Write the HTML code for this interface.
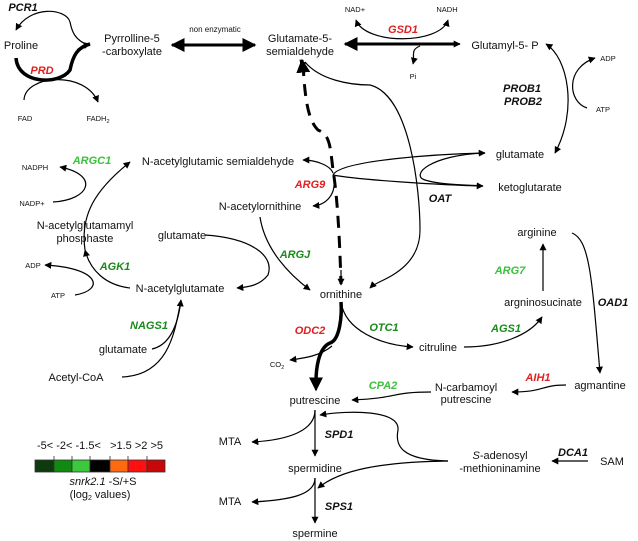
<!DOCTYPE html>
<html><head><meta charset="utf-8"><style>
body{margin:0;background:#fff}
svg{display:block;font-family:"Liberation Sans",Arial,sans-serif}
.t{font-size:11px;fill:#111}
.s{font-size:7.5px;fill:#111}
.e{font-size:11px;font-weight:bold;font-style:italic}
.l{fill:none;stroke:#000;stroke-width:1.2}
</style></head><body>
<svg width="638" height="541" viewBox="0 0 638 541">
<defs>
<marker id="a" viewBox="0 0 10 10" refX="9" refY="5" markerWidth="7" markerHeight="7" orient="auto-start-reverse" markerUnits="userSpaceOnUse"><path d="M0,0L10,5L0,10z"/></marker>
<marker id="b" viewBox="0 0 10 10" refX="9" refY="5" markerWidth="14" markerHeight="14" orient="auto-start-reverse" markerUnits="userSpaceOnUse"><path d="M0,0L10,5L0,10z"/></marker>
</defs>
<g text-anchor="middle">
<text class="e" x="23" y="11" fill="#111">PCR1</text>
<text class="t" x="21" y="49">Proline</text>
<text class="t" x="132" y="42">Pyrrolline-5</text>
<text class="t" x="132" y="55">-carboxylate</text>
<text class="s" x="215" y="32" style="font-size:8px">non enzymatic</text>
<text class="t" x="300" y="42">Glutamate-5-</text>
<text class="t" x="300" y="55">semialdehyde</text>
<text class="s" x="355" y="12">NAD+</text>
<text class="s" x="447" y="12">NADH</text>
<text class="e" x="403" y="33" fill="#e02020">GSD1</text>
<text class="s" x="413" y="79">Pi</text>
<text class="t" x="505" y="49">Glutamyl-5- P</text>
<text class="s" x="608" y="61">ADP</text>
<text class="s" x="603" y="112">ATP</text>
<text class="e" x="522" y="92" fill="#111">PROB1</text>
<text class="e" x="523" y="105" fill="#111">PROB2</text>
<text class="e" x="42" y="74" fill="#e02020">PRD</text>
<text class="s" x="25" y="121">FAD</text>
<text class="s" x="98" y="121">FADH<tspan font-size="5.5" dy="2">2</tspan></text>
<text class="e" x="92" y="164" fill="#3cc03c">ARGC1</text>
<text class="s" x="35" y="170">NADPH</text>
<text class="s" x="32" y="206">NADP+</text>
<text class="t" x="218" y="165">N-acetylglutamic semialdehyde</text>
<text class="e" x="310" y="188" fill="#e02020">ARG9</text>
<text class="t" x="260" y="210">N-acetylornithine</text>
<text class="t" x="520" y="158">glutamate</text>
<text class="t" x="530" y="191">ketoglutarate</text>
<text class="e" x="440" y="202" fill="#111">OAT</text>
<text class="t" x="85" y="229">N-acetylglutamamyl</text>
<text class="t" x="85" y="242">phosphaste</text>
<text class="t" x="182" y="239">glutamate</text>
<text class="e" x="295" y="258" fill="#1a8a1a">ARGJ</text>
<text class="t" x="537" y="236">arginine</text>
<text class="e" x="510" y="274" fill="#3cc03c">ARG7</text>
<text class="t" x="543" y="306">argninosucinate</text>
<text class="e" x="613" y="306" fill="#111">OAD1</text>
<text class="s" x="33" y="268">ADP</text>
<text class="e" x="115" y="270" fill="#1a8a1a">AGK1</text>
<text class="s" x="58" y="298">ATP</text>
<text class="t" x="180" y="292">N-acetylglutamate</text>
<text class="t" x="341" y="298">ornithine</text>
<text class="e" x="149" y="329" fill="#1a8a1a">NAGS1</text>
<text class="t" x="123" y="353">glutamate</text>
<text class="t" x="76" y="381">Acetyl-CoA</text>
<text class="e" x="310" y="334" fill="#e02020">ODC2</text>
<text class="e" x="384" y="331" fill="#1a8a1a">OTC1</text>
<text class="e" x="506" y="332" fill="#1a8a1a">AGS1</text>
<text class="t" x="438" y="351">citruline</text>
<text class="s" x="277" y="367">CO<tspan font-size="5.5" dy="2">2</tspan></text>
<text class="e" x="383" y="389" fill="#3cc03c">CPA2</text>
<text class="t" x="466" y="391">N-carbamoyl</text>
<text class="t" x="466" y="403">putrescine</text>
<text class="e" x="538" y="381" fill="#e02020">AIH1</text>
<text class="t" x="600" y="389">agmantine</text>
<text class="t" x="315" y="404">putrescine</text>
<text class="t" x="230" y="445">MTA</text>
<text class="e" x="339" y="438" fill="#111">SPD1</text>
<text class="t" x="315" y="472">spermidine</text>
<text class="t" x="500" y="459"><tspan font-style="italic">S</tspan>-adenosyl</text>
<text class="t" x="500" y="472">-methioninamine</text>
<text class="e" x="573" y="456" fill="#111">DCA1</text>
<text class="t" x="612" y="465">SAM</text>
<text class="t" x="230" y="505">MTA</text>
<text class="e" x="339" y="510" fill="#111">SPS1</text>
<text class="t" x="315" y="537">spermine</text>
<text class="t" x="100" y="449">-5&lt; -2&lt; -1.5&lt;&#160;&#160; &gt;1.5 &gt;2 &gt;5</text>
<text class="t" x="103" y="485"><tspan font-style="italic">snrk2.1</tspan> -S/+S</text>
<text class="t" x="100" y="498">(log<tspan font-size="7" dy="2">2</tspan><tspan dy="-2"> values)</tspan></text>
</g>
<g stroke="#333" stroke-width="0.8">
<rect x="35" y="460" width="19" height="12" fill="#0d3b0d"/>
<rect x="54" y="460" width="18" height="12" fill="#118a11"/>
<rect x="72" y="460" width="18" height="12" fill="#3cc83c"/>
<rect x="90" y="460" width="20" height="12" fill="#000"/>
<rect x="110" y="460" width="18" height="12" fill="#ff6a10"/>
<rect x="128" y="460" width="19" height="12" fill="#ff1010"/>
<rect x="147" y="460" width="18" height="12" fill="#c80808"/>
<path d="M54,456V460M72,456V460M90,456V460M110,456V460M128,456V460M147,456V460"/>
</g>
<g class="l">
<path d="M88,45 C75,40 72,32 70,22 C66,8 30,5 16,30" marker-end="url(#a)"/>
<path d="M16,58 C18,85 60,85 70,70 C73,55 78,47 90,44" stroke-width="3.5" marker-end="url(#a)"/>
<path d="M24,100 C25,75 85,70 98,102" marker-end="url(#a)"/>
<path d="M172,45 L255,45" stroke-width="3" marker-start="url(#b)" marker-end="url(#b)"/>
<path d="M345,44 L457,44" stroke-width="3" marker-start="url(#b)"/>
<path d="M345,44 L460,44" stroke-width="1.5" marker-end="url(#a)"/>
<path d="M356,20 C365,45 440,45 448,20" marker-start="url(#a)" marker-end="url(#a)"/>
<path d="M420,46 C410,50 415,55 413,64" marker-end="url(#a)"/>
<path d="M546,44 C568,58 578,110 555,153" marker-start="url(#a)" marker-end="url(#a)"/>
<path d="M587,108 C568,102 565,68 595,58" marker-end="url(#a)"/>
<path d="M333,175 C340,160 440,154 485,153" marker-end="url(#a)"/>
<path d="M333,175 C360,180 440,185 483,186" marker-end="url(#a)"/>
<path d="M485,153 C430,155 410,175 425,180 C440,185 470,185 483,186"/>
<path d="M333,173 C330,165 315,160 303,160" marker-end="url(#a)"/>
<path d="M333,175 C338,195 325,205 313,206" marker-end="url(#a)"/>
<path d="M305,62 C320,80 350,85 370,85 C410,95 420,190 420,230 C420,270 380,280 374,285" />
<path d="M302,63 L300,60" marker-end="url(#a)"/>
<path d="M372,286 L370,288" marker-end="url(#a)"/>
<path d="M303,64 C305,100 308,120 318,130 C330,135 330,145 333,170 C338,200 340,250 341,284" stroke-width="3" stroke-dasharray="12,8"/>
<path d="M341,270 L341,285" marker-end="url(#a)"/>
<path d="M303,70 L302,60" stroke-width="3" marker-end="url(#b)"/>
<path d="M85,250 C80,215 95,190 130,162" marker-end="url(#a)"/>
<path d="M53,202 C90,200 100,175 60,167" marker-end="url(#a)"/>
<path d="M130,288 C105,285 90,270 85,250" marker-end="url(#a)"/>
<path d="M75,295 C105,290 100,268 45,265" marker-end="url(#a)"/>
<path d="M260,217 C265,250 290,275 310,290" marker-end="url(#a)"/>
<path d="M205,235 C250,238 275,255 268,275 C260,285 250,287 237,288" marker-end="url(#a)"/>
<path d="M152,349 C170,345 178,325 181,300" marker-end="url(#a)"/>
<path d="M122,377 C170,375 175,330 181,300"/>
<path d="M341,302 C342,315 340,340 330,343 C318,348 316,370 316,382" stroke-width="3.5"/>
<path d="M316,378 L316,390" stroke-width="2" marker-end="url(#b)"/>
<path d="M332,346 C320,356 305,358 290,360" marker-end="url(#a)"/>
<path d="M341,302 C345,330 380,345 413,347" marker-end="url(#a)"/>
<path d="M464,347 C500,347 530,335 542,317" marker-end="url(#a)"/>
<path d="M543,291 L543,244" marker-end="url(#a)"/>
<path d="M572,233 C590,240 592,280 600,373" marker-end="url(#a)"/>
<path d="M566,385 C540,385 545,392 512,392" marker-end="url(#a)"/>
<path d="M431,392 C390,392 400,398 352,400" marker-end="url(#a)"/>
<path d="M315,410 L315,456" marker-end="url(#a)"/>
<path d="M315,410 C315,430 290,440 252,442" marker-end="url(#a)"/>
<path d="M315,478 L315,523" marker-end="url(#a)"/>
<path d="M315,478 C315,495 290,500 252,502" marker-end="url(#a)"/>
<path d="M448,461 C400,460 395,445 398,430 C400,410 350,410 320,415" marker-end="url(#a)"/>
<path d="M448,461 C380,462 340,470 318,488" marker-end="url(#a)"/>
<path d="M588,461 L552,461" marker-end="url(#a)"/>
</g>
</svg>
</body></html>
